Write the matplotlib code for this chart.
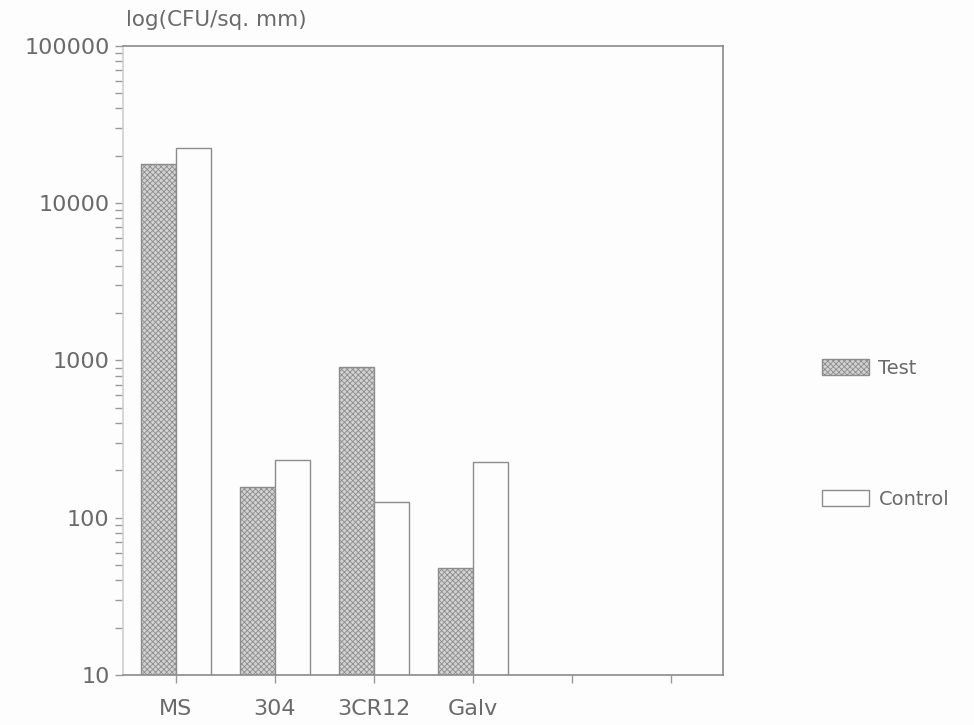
import matplotlib
matplotlib.use("Agg")
import matplotlib.pyplot as plt
import matplotlib.patches as mpatches
import numpy as np

# colony counts per surface, CFU per sq. mm
materials = ["MS", "304", "3CR12", "Galv", "", ""]
test = [17800, 157, 910, 48]
control = [22400, 233, 126, 226]

ink = "#6a6a6a"
plt.rcParams["font.family"] = "DejaVu Sans"
plt.rcParams["hatch.color"] = "#a8a8a8"
plt.rcParams["hatch.linewidth"] = 0.6

fig = plt.figure(figsize=(9.74, 7.25), dpi=100)
fig.patch.set_facecolor("#fdfdfd")
ax = fig.add_axes([0.126, 0.069, 0.616, 0.868])
ax.set_facecolor("#fdfdfd")
ax.set_yscale("log")

w = 0.354
x = np.arange(len(test))
ax.bar(x - w, test, width=w, align="edge", facecolor="#d2d2d2",
       edgecolor="#8c8c8c", linewidth=1.0, hatch="xxxxxx", label="Test")
ax.bar(x, control, width=w, align="edge", facecolor="#fdfdfd",
       edgecolor="#8c8c8c", linewidth=1.0, label="Control")

ax.set_ylim(10, 100000)
ax.set_xlim(-0.535, 5.525)
ax.set_yticks([10, 100, 1000, 10000, 100000])
ax.set_yticklabels(["10", "100", "1000", "10000", "100000"])
ax.set_xticks(np.arange(len(materials)))
ax.set_xticklabels(materials)

for s in ax.spines.values():
    s.set_color("#8a8a8a")
    s.set_linewidth(1.2)
ax.spines["left"].set_color("#d0d0d0")

ax.tick_params(axis="both", which="major", colors="#9a9a9a", labelcolor=ink,
               labelsize=16, length=6, width=1)
ax.tick_params(axis="y", which="minor", colors="#9a9a9a", length=6, width=1)
ax.tick_params(axis="x", pad=11)

ax.text(0.005, 1.025, "log(CFU/sq. mm)", transform=ax.transAxes, ha="left",
        va="bottom", fontsize=15.5, color=ink)

handles = [
    mpatches.Patch(facecolor="#d2d2d2", edgecolor="#8c8c8c", hatch="xxxxxx", label="Test"),
    mpatches.Patch(facecolor="#fdfdfd", edgecolor="#8c8c8c", label="Control"),
]
fig.legend(handles=handles, loc="upper left", bbox_to_anchor=(822 / 974, 1 - 359 / 725),
           frameon=False, fontsize=14, labelcolor=ink, handlelength=2.4,
           handleheight=0.9, labelspacing=5.75, borderpad=0, borderaxespad=0,
           handletextpad=0.5)

fig.savefig("out.png", dpi=100, facecolor=fig.get_facecolor())
